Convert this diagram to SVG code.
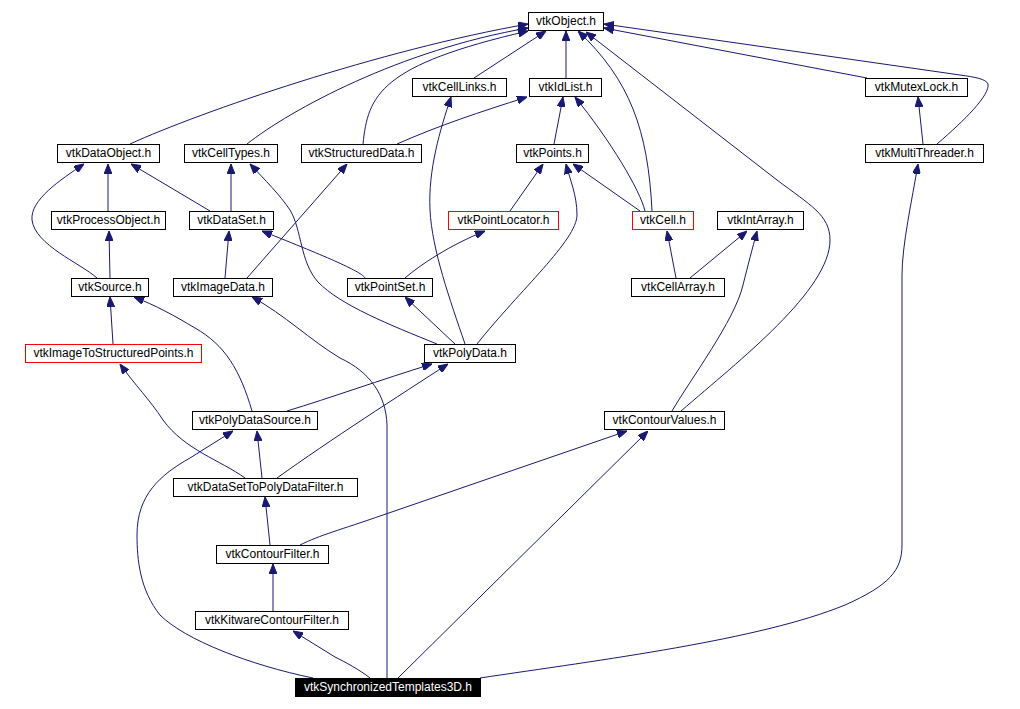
<svg xmlns="http://www.w3.org/2000/svg" width="1020" height="709" viewBox="0 0 1020 709">
<style>
.n rect{fill:#fff;stroke:#000;stroke-width:1}
.n.r rect{stroke:#f00}
.n.s rect{fill:#000}
.n text{font-family:"Liberation Sans",Arial,sans-serif;font-size:12px;fill:#000;text-anchor:middle}
.n.s text{fill:#fff}
#edges path{fill:none;stroke:#191970;stroke-width:1;marker-end:url(#a)}
</style>
<defs>
<marker id="a" markerWidth="10" markerHeight="8" refX="10" refY="4" orient="auto" markerUnits="userSpaceOnUse">
<path d="M0,0 L10,4 L0,8 z" fill="#191970" stroke="#191970" stroke-width="1"/>
</marker>
</defs>
<rect width="1020" height="709" fill="#fff"/>
<g id="edges">
<path d="M130,144 C200,112 380,50 528,24"/>
<path d="M247,144 C290,110 400,50 528,28"/>
<path d="M363,144 C368,95 380,65 528,31"/>
<path d="M474,78 L546,31"/>
<path d="M566,78 L566,31"/>
<path d="M652,211 C648,130 630,80 578,31"/>
<path d="M681,411 C740,360 830,290 830,240 C830,215 810,205 777,180 L586,32"/>
<path d="M867,78 L604,28"/>
<path d="M937,144 C965,120 990,95 988,84 C986,79 975,77 960,75 L604,24"/>
<path d="M923,144 L918,97"/>
<path d="M397,144 C440,125 480,112 527,97"/>
<path d="M554,144 L563,97"/>
<path d="M645,211 C640,190 610,140 575,97"/>
<path d="M510,211 L543,164"/>
<path d="M477,344 C520,290 577,240 577,215 C577,195 570,180 566,164"/>
<path d="M640,211 L573,164"/>
<path d="M465,344 C450,300 432,250 430,210 C428,170 440,130 451,97"/>
<path d="M455,344 L405,297"/>
<path d="M437,344 C390,325 340,305 318,282 C300,262 302,230 290,210 C280,195 265,180 250,164"/>
<path d="M247,278 L347,164"/>
<path d="M108,211 L108,164"/>
<path d="M97,278 C80,263 35,245 32,220 C30,200 60,180 84,164"/>
<path d="M210,211 L131,164"/>
<path d="M231,211 L231,164"/>
<path d="M110,278 L109,231"/>
<path d="M225,278 L229,231"/>
<path d="M365,278 C362,272 330,258 262,231"/>
<path d="M405,278 C420,265 450,245 485,231"/>
<path d="M676,278 L667,231"/>
<path d="M690,278 L747,231"/>
<path d="M672,411 C690,380 735,320 743,285 C748,265 752,250 757,231"/>
<path d="M113,344 L110,297"/>
<path d="M252,411 C240,370 225,345 195,328 C175,316 155,305 134,297"/>
<path d="M387,678 L387,425 C386,395 370,372 340,358 C310,340 285,315 252,297"/>
<path d="M245,478 C220,460 185,450 163,420 C150,400 135,385 120,364"/>
<path d="M287,411 C330,398 380,380 432,364"/>
<path d="M277,478 C330,440 400,395 448,364"/>
<path d="M262,478 L257,431"/>
<path d="M313,678 C250,665 185,640 160,615 C140,590 137,560 137,535 C137,495 160,475 190,458 L233,431"/>
<path d="M300,545 C320,535 340,530 383,515 L627,431"/>
<path d="M398,678 L648,431"/>
<path d="M270,545 L265,497"/>
<path d="M273,611 L273,564"/>
<path d="M370,678 C360,670 345,662 335,657 L293,631"/>
<path d="M480,678 C600,660 760,640 845,605 C890,585 902,570 902,545 L902,275 C902,245 912,200 918,164"/>
</g>
<g id="vtkObject" class="n"><rect x="528.5" y="12.5" width="75" height="18"/><text x="566" y="25">vtkObject.h</text></g>
<g id="vtkCellLinks" class="n"><rect x="412.5" y="78.5" width="94" height="18"/><text x="459.5" y="91">vtkCellLinks.h</text></g>
<g id="vtkIdList" class="n"><rect x="529.5" y="78.5" width="72" height="18"/><text x="565.5" y="91">vtkIdList.h</text></g>
<g id="vtkMutexLock" class="n"><rect x="865.5" y="78.5" width="102" height="18"/><text x="916.5" y="91">vtkMutexLock.h</text></g>
<g id="vtkDataObject" class="n"><rect x="57.5" y="144.5" width="102" height="18"/><text x="108.5" y="157">vtkDataObject.h</text></g>
<g id="vtkCellTypes" class="n"><rect x="184.5" y="144.5" width="93" height="18"/><text x="231" y="157">vtkCellTypes.h</text></g>
<g id="vtkStructuredData" class="n"><rect x="301.5" y="144.5" width="120" height="18"/><text x="361.5" y="157">vtkStructuredData.h</text></g>
<g id="vtkPoints" class="n"><rect x="516.5" y="144.5" width="72" height="18"/><text x="552.5" y="157">vtkPoints.h</text></g>
<g id="vtkMultiThreader" class="n"><rect x="865.5" y="144.5" width="118" height="18"/><text x="924.5" y="157">vtkMultiThreader.h</text></g>
<g id="vtkProcessObject" class="n"><rect x="51.5" y="211.5" width="114" height="18"/><text x="108.5" y="224">vtkProcessObject.h</text></g>
<g id="vtkDataSet" class="n"><rect x="189.5" y="211.5" width="84" height="18"/><text x="231.5" y="224">vtkDataSet.h</text></g>
<g id="vtkPointLocator" class="n r"><rect x="448.5" y="211.5" width="110" height="18"/><text x="503.5" y="224">vtkPointLocator.h</text></g>
<g id="vtkCell" class="n r"><rect x="632.5" y="211.5" width="61" height="18"/><text x="663" y="224">vtkCell.h</text></g>
<g id="vtkIntArray" class="n"><rect x="717.5" y="211.5" width="86" height="18"/><text x="760.5" y="224">vtkIntArray.h</text></g>
<g id="vtkSource" class="n"><rect x="71.5" y="278.5" width="77" height="18"/><text x="110" y="291">vtkSource.h</text></g>
<g id="vtkImageData" class="n"><rect x="173.5" y="278.5" width="99" height="18"/><text x="223" y="291">vtkImageData.h</text></g>
<g id="vtkPointSet" class="n"><rect x="347.5" y="278.5" width="85" height="18"/><text x="390" y="291">vtkPointSet.h</text></g>
<g id="vtkCellArray" class="n"><rect x="631.5" y="278.5" width="93" height="18"/><text x="678" y="291">vtkCellArray.h</text></g>
<g id="vtkImageToStructuredPoints" class="n r"><rect x="25.5" y="344.5" width="176" height="18"/><text x="113.5" y="357">vtkImageToStructuredPoints.h</text></g>
<g id="vtkPolyData" class="n"><rect x="424.5" y="344.5" width="91" height="18"/><text x="470" y="357">vtkPolyData.h</text></g>
<g id="vtkPolyDataSource" class="n"><rect x="192.5" y="411.5" width="125" height="18"/><text x="255" y="424">vtkPolyDataSource.h</text></g>
<g id="vtkContourValues" class="n"><rect x="604.5" y="411.5" width="120" height="18"/><text x="664.5" y="424">vtkContourValues.h</text></g>
<g id="vtkDataSetToPolyDataFilter" class="n"><rect x="173.5" y="478.5" width="184" height="18"/><text x="265.5" y="491">vtkDataSetToPolyDataFilter.h</text></g>
<g id="vtkContourFilter" class="n"><rect x="216.5" y="545.5" width="112" height="18"/><text x="272.5" y="558">vtkContourFilter.h</text></g>
<g id="vtkKitwareContourFilter" class="n"><rect x="195.5" y="611.5" width="153" height="18"/><text x="272" y="624">vtkKitwareContourFilter.h</text></g>
<g id="vtkSynchronizedTemplates3D" class="n s"><rect x="295.5" y="678.5" width="185" height="18"/><text x="388" y="691">vtkSynchronizedTemplates3D.h</text></g>
</svg>
